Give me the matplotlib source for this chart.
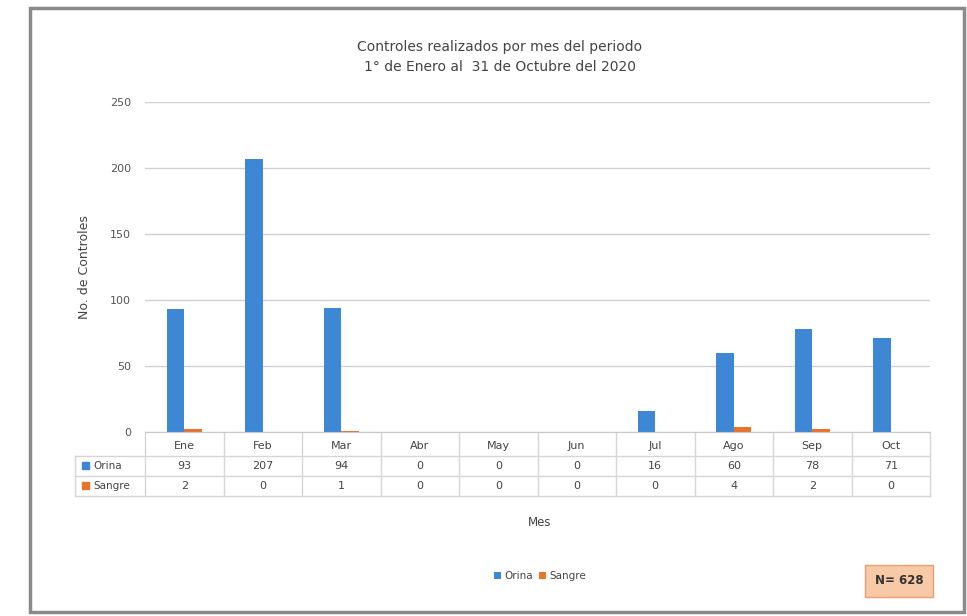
import matplotlib.pyplot as plt
import matplotlib.transforms as mtransforms
from matplotlib.patches import Rectangle
import numpy as np

meses = ["Ene", "Feb", "Mar", "Abr", "May", "Jun", "Jul", "Ago", "Sep", "Oct"]
orina = [93, 207, 94, 0, 0, 0, 16, 60, 78, 71]
sangre = [2, 0, 1, 0, 0, 0, 0, 4, 2, 0]
series = ["Orina", "Sangre"]
colores = ["#3d87d4", "#e8742c"]
total = sum(orina) + sum(sangre)

W, H = 967, 616
fig = plt.figure(figsize=(W / 100, H / 100), dpi=100)
fig.patch.set_facecolor("white")

# marco exterior
fig.add_artist(Rectangle((30 / W, 4 / H), 934 / W, 604 / H, transform=fig.transFigure,
                         fill=False, edgecolor="#8a8a8a", linewidth=2.5))

def fy(py):
    return 1 - py / H

ax = fig.add_axes([145 / W, fy(432), 785 / W, (432 - 102) / H])
x = np.arange(len(meses))
w = 0.22
ax.bar(x - w / 2, orina, w, color=colores[0], label=series[0])
ax.bar(x + w / 2, sangre, w, color=colores[1], label=series[1])
ax.set_xlim(-0.5, len(meses) - 0.5)
ax.set_ylim(0, 250)
ax.set_yticks([0, 50, 100, 150, 200, 250])
ax.tick_params(axis="y", length=0, labelsize=8, colors="#555555", pad=10)
ax.set_xticks([])
ax.yaxis.grid(True, color="#d0d0d0", linewidth=1)
ax.set_axisbelow(True)
for s in ["top", "right", "left"]:
    ax.spines[s].set_visible(False)
ax.spines["bottom"].set_color("#c8c8c8")
ax.set_ylabel("No. de Controles", fontsize=9, color="#444444", labelpad=14)

# tabla de datos
tr = mtransforms.blended_transform_factory(ax.transData, fig.transFigure)
filas = [432, 456, 476, 496]
gris = "#d6d6d6"
for py in filas[1:]:
    fig.add_artist(plt.Line2D([75 / W, 930 / W], [fy(py), fy(py)], color=gris, lw=1))
for i in range(len(meses) + 1):
    xb = i - 0.5
    ax.plot([xb, xb], [fy(432), fy(496)], transform=tr, color=gris, lw=1, clip_on=False)
fig.add_artist(plt.Line2D([75 / W, 75 / W], [fy(456), fy(496)], color=gris, lw=1))

for i, m in enumerate(meses):
    ax.text(i, fy(446), m, transform=tr, ha="center", va="center", fontsize=8, color="#444444")
    ax.text(i, fy(466), str(orina[i]), transform=tr, ha="center", va="center", fontsize=8, color="#444444")
    ax.text(i, fy(486), str(sangre[i]), transform=tr, ha="center", va="center", fontsize=8, color="#444444")

for j, (nombre, c) in enumerate(zip(series, colores)):
    py = 466 + 20 * j
    fig.add_artist(Rectangle((82 / W, fy(py + 3)), 7 / W, 7 / H, transform=fig.transFigure,
                             color=c))
    fig.text(93 / W, fy(py), nombre, ha="left", va="center", fontsize=7.5, color="#444444")

fig.text(540 / W, fy(522), "Mes", ha="center", va="center", fontsize=8.5, color="#444444")

fig.text(500 / W, fy(57), "Controles realizados por mes del periodo\n1° de Enero al  31 de Octubre del 2020",
         ha="center", va="center", fontsize=10, color="#444444", linespacing=1.5)

ax.legend(loc="center", bbox_to_anchor=(540 / W, fy(576)), bbox_transform=fig.transFigure,
          ncol=2, frameon=False, fontsize=7.5, handlelength=0.7, handleheight=0.7,
          columnspacing=0.6, handletextpad=0.3, labelcolor="#444444")

fig.text(899 / W, fy(581), "N= %d" % total, ha="center", va="center", fontsize=8.5,
         fontweight="bold", color="#333333",
         bbox=dict(boxstyle="square,pad=0.8", facecolor="#f7c9a6", edgecolor="#e8a070", lw=1))

fig.savefig("out.png", dpi=100)
